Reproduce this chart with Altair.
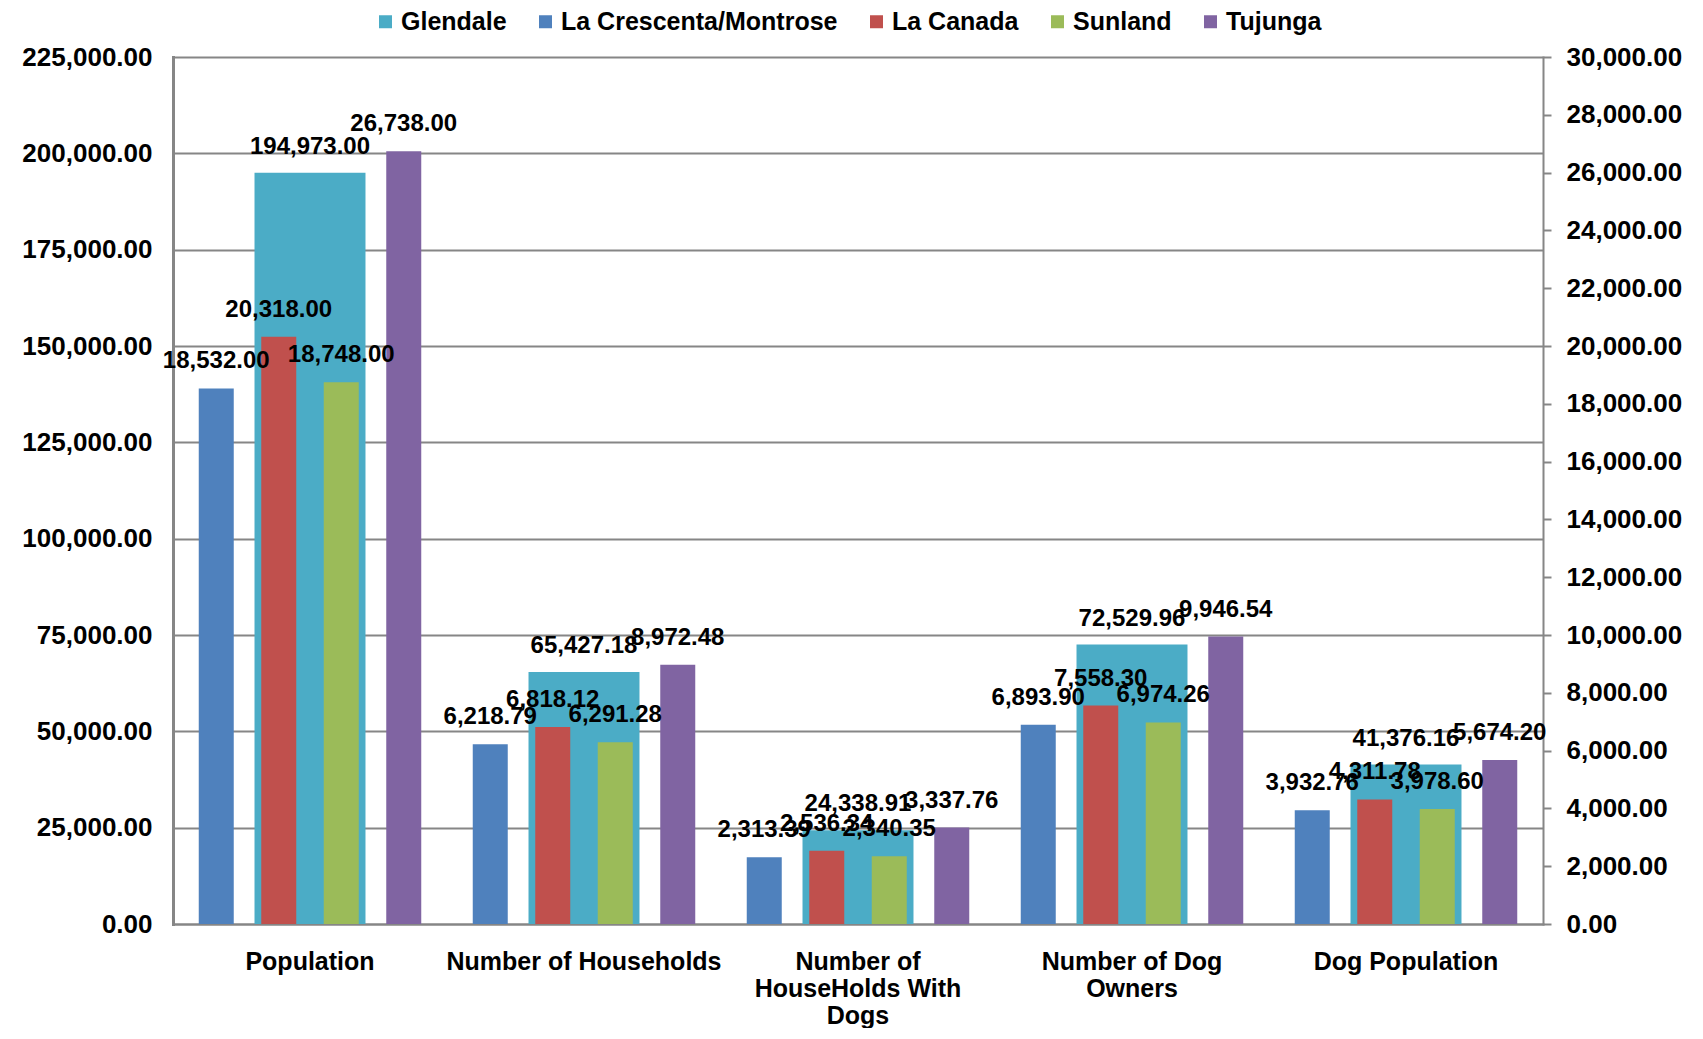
import altair as alt
import pandas as pd

categories = ["Population", "Number of Households", "Number of HouseHolds With Dogs",
              "Number of Dog Owners", "Dog Population"]
category_lines = [["Population"], ["Number of Households"], ["Number of", "HouseHolds With", "Dogs"],
                  ["Number of Dog", "Owners"], ["Dog Population"]]
series_names = ["Glendale", "La Crescenta/Montrose", "La Canada", "Sunland", "Tujunga"]
series_colors = ["#4BACC6", "#4F81BD", "#C0504D", "#9BBB59", "#8064A2"]

glendale = [194973.00, 65427.18, 24338.91, 72529.96, 41376.16]
la_crescenta = [18532.00, 6218.79, 2313.39, 6893.90, 3932.76]
la_canada = [20318.00, 6818.12, 2536.34, 7558.30, 4311.78]
sunland = [18748.00, 6291.28, 2340.35, 6974.26, 3978.60]
tujunga = [26738.00, 8972.48, 3337.76, 9946.54, 5674.20]

left_ticks = [0, 25000, 50000, 75000, 100000, 125000, 150000, 175000, 200000, 225000]
right_ticks = list(range(0, 30001, 2000))

rows = []
for name, vals in zip(series_names, [glendale, la_crescenta, la_canada, sunland, tujunga]):
    for c, v in zip(categories, vals):
        rows.append({"category": c, "series": name, "value": v})
df = pd.DataFrame(rows)

FONT = "Liberation Sans"
GRAY = "#868686"

# multi-line label expression
expr = "datum.value"
for c, lines in reversed(list(zip(categories, category_lines))):
    arr = "[" + ",".join("'" + l + "'" for l in lines) + "]"
    expr = f"datum.value == '{c}' ? {arr} : ({expr})"

x_enc = alt.X("category:N", sort=categories,
              scale=alt.Scale(paddingInner=0, paddingOuter=0),
              axis=alt.Axis(title=None, labelAngle=0, labelFont=FONT, labelFontSize=25,
                            labelFontWeight="bold", labelColor="black", ticks=False,
                            domainColor=GRAY, domainWidth=2, labelPadding=37,
                            labelLineHeight=27, labelExpr=expr, labelBaseline="middle",
                            labelLimit=0))

color_enc = alt.Color("series:N", scale=alt.Scale(domain=series_names, range=series_colors),
                      legend=alt.Legend(title=None, orient="none", direction="horizontal",
                                        legendX=200, legendY=-48, symbolType="square",
                                        symbolSize=169, symbolStrokeWidth=0,
                                        labelFont=FONT, labelFontSize=25, labelFontWeight="bold",
                                        labelColor="black", columnPadding=26, labelOffset=3,
                                        labelLimit=0, values=series_names))

base = alt.Chart(df)

y_left = alt.Y("value:Q", scale=alt.Scale(domain=[0, 225000], nice=False),
               axis=alt.Axis(title=None, orient="left", values=left_ticks, format=",.2f",
                             labelFont=FONT, labelFontSize=26, labelFontWeight="bold",
                             labelColor="black", ticks=False, labelPadding=21,
                             domainColor=GRAY, domainWidth=3, grid=True, gridColor=GRAY,
                             gridWidth=2, gridOpacity=1, labelLimit=0))

glen = base.transform_filter(alt.datum.series == "Glendale")
glen_bar = glen.mark_bar(width=alt.RelativeBandSize(0.405)).encode(
    x=x_enc, y=y_left, color=color_enc)
glen_text = glen.mark_text(font=FONT, fontSize=24, fontWeight="bold", color="black",
                           baseline="middle", dy=-26).encode(
    x=alt.X("category:N", sort=categories), y=alt.Y("value:Q"),
    text=alt.Text("value:Q", format=",.2f"))
left_layer = alt.layer(glen_bar, glen_text)

others = base.transform_filter(alt.datum.series != "Glendale")
y_right = alt.Y("value:Q", scale=alt.Scale(domain=[0, 30000], nice=False),
                axis=alt.Axis(title=None, orient="right", values=right_ticks, format=",.2f",
                              labelFont=FONT, labelFontSize=26, labelFontWeight="bold",
                              labelColor="black", ticks=True, tickSize=8, tickColor=GRAY,
                              tickWidth=2, labelPadding=15, domainColor=GRAY, domainWidth=2,
                              grid=False, labelLimit=0))
xoff = alt.XOffset("series:N", sort=series_names[1:],
                   scale=alt.Scale(domain=series_names[1:], paddingInner=0.44, paddingOuter=0.412))
oth_bar = others.mark_bar().encode(
    x=alt.X("category:N", sort=categories), xOffset=xoff, y=y_right,
    color=alt.Color("series:N"))
oth_text = others.mark_text(font=FONT, fontSize=24, fontWeight="bold", color="black",
                            baseline="middle", dy=-27).encode(
    x=alt.X("category:N", sort=categories), xOffset=xoff, y=alt.Y("value:Q"),
    text=alt.Text("value:Q", format=",.2f"))
right_layer = alt.layer(oth_bar, oth_text)

chart = alt.layer(left_layer, right_layer).resolve_scale(
    y="independent", color="shared"
).properties(
    width=1370, height=867,
    autosize=alt.AutoSizeParams(type="none"),
    padding={"left": 165, "top": 49, "right": 152, "bottom": 104},
).configure_view(stroke=None).configure_axis(domainCap="square")

chart.save("out.html", embed_options={"renderer": "svg", "actions": False})
